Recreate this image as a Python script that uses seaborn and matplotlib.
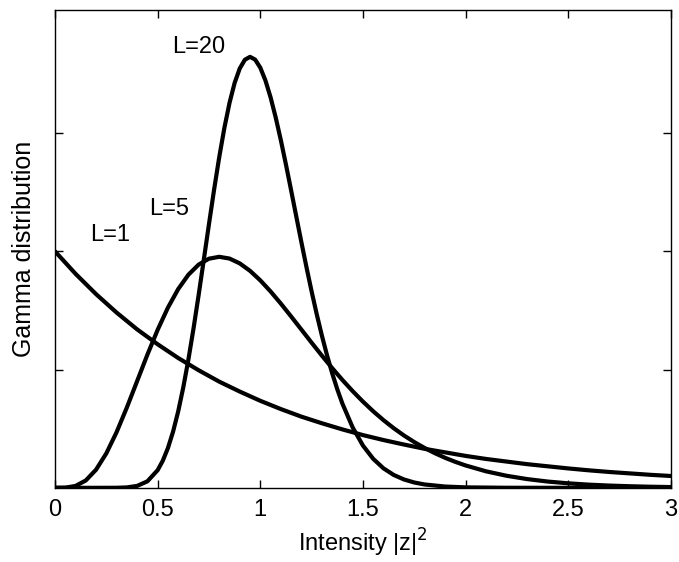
import matplotlib
matplotlib.use("Agg")
import matplotlib.pyplot as plt
import seaborn as sns
import pandas as pd

# === Data (gamma densities, unit mean) ===
x_l1 = [0.0, 0.1, 0.2, 0.3, 0.4, 0.5, 0.6, 0.7, 0.8, 0.9, 1.0,
        1.1, 1.2, 1.3, 1.4, 1.5, 1.6, 1.7, 1.8, 1.9, 2.0,
        2.1, 2.2, 2.3, 2.4, 2.5, 2.6, 2.7, 2.8, 2.9, 3.0]
y_l1 = [1.000, 0.905, 0.819, 0.741, 0.670, 0.607, 0.549, 0.497, 0.449, 0.407, 0.368,
        0.333, 0.301, 0.273, 0.247, 0.223, 0.202, 0.183, 0.165, 0.150, 0.135,
        0.122, 0.111, 0.100, 0.091, 0.082, 0.074, 0.067, 0.061, 0.055, 0.050]

x_l5 = [0.0, 0.05, 0.1, 0.15, 0.2, 0.25, 0.3, 0.35, 0.4, 0.45, 0.5,
        0.55, 0.6, 0.65, 0.7, 0.75, 0.8, 0.85, 0.9, 0.95, 1.0,
        1.05, 1.1, 1.15, 1.2, 1.25, 1.3, 1.35, 1.4, 1.45, 1.5,
        1.55, 1.6, 1.65, 1.7, 1.75, 1.8, 1.85, 1.9, 1.95, 2.0,
        2.1, 2.2, 2.3, 2.4, 2.5, 2.6, 2.7, 2.8, 2.9, 3.0]
y_l5 = [0.0, 0.0006, 0.0079, 0.0311, 0.0766, 0.1457, 0.2353, 0.3395, 0.4511, 0.5628, 0.6680,
        0.7617, 0.8402, 0.9012, 0.9441, 0.9689, 0.9768, 0.9695, 0.9490, 0.9176, 0.8773,
        0.8305, 0.7791, 0.7248, 0.6693, 0.6137, 0.5591, 0.5064, 0.4561, 0.4088, 0.3646,
        0.3237, 0.2863, 0.2521, 0.2213, 0.1935, 0.1687, 0.1466, 0.1270, 0.1098, 0.0946,
        0.0697, 0.0509, 0.0369, 0.0265, 0.0190, 0.0134, 0.0095, 0.0067, 0.0046, 0.0032]

x_l20 = [0.0, 0.2, 0.3, 0.35, 0.4, 0.45, 0.5, 0.525, 0.55, 0.575, 0.6,
         0.625, 0.65, 0.675, 0.7, 0.725, 0.75, 0.775, 0.8, 0.825, 0.85,
         0.875, 0.9, 0.925, 0.95, 0.975, 1.0, 1.025, 1.05, 1.075, 1.1,
         1.125, 1.15, 1.175, 1.2, 1.225, 1.25, 1.275, 1.3, 1.325, 1.35,
         1.375, 1.4, 1.45, 1.5, 1.55, 1.6, 1.65, 1.7, 1.75, 1.8,
         1.9, 2.0, 2.2, 2.5, 3.0]
y_l20 = [0.0, 0.0, 0.0002, 0.0017, 0.0080, 0.0274, 0.0746, 0.1144, 0.1679, 0.2370, 0.3227,
         0.4252, 0.5433, 0.6750, 0.8170, 0.9653, 1.1149, 1.2609, 1.3980, 1.5215, 1.6273,
         1.7120, 1.7734, 1.8102, 1.8224, 1.8107, 1.7767, 1.7227, 1.6516, 1.5665, 1.4706,
         1.3670, 1.2589, 1.1490, 1.0396, 0.9330, 0.8307, 0.7340, 0.6438, 0.5608, 0.4852,
         0.4170, 0.3562, 0.2553, 0.1788, 0.1226, 0.0825, 0.0544, 0.0353, 0.0225, 0.0142,
         0.0054, 0.0019, 0.0002, 0.0, 0.0]

curve_labels = ["L=1", "L=5", "L=20"]
label_x = [0.27, 0.555, 0.70]
label_y = [1.07, 1.18, 1.865]

x_ticks = [0, 0.5, 1, 1.5, 2, 2.5, 3]
x_tick_labels = ["0", "0.5", "1", "1.5", "2", "2.5", "3"]
y_ticks = [0.5, 1.0, 1.5]

df = pd.concat([
    pd.DataFrame({"x": x_l1, "y": y_l1, "L": "L=1"}),
    pd.DataFrame({"x": x_l5, "y": y_l5, "L": "L=5"}),
    pd.DataFrame({"x": x_l20, "y": y_l20, "L": "L=20"}),
])

# === Style ===
sns.set_theme(style="ticks")
plt.rcParams["font.family"] = ["Liberation Sans", "DejaVu Sans"]
plt.rcParams["axes.linewidth"] = 1.0
plt.rcParams["axes.edgecolor"] = "black"
plt.rcParams["axes.labelcolor"] = "black"
plt.rcParams["text.color"] = "black"

fig = plt.figure(figsize=(6.79, 5.62), dpi=100)
ax = fig.add_axes([0.081, 0.132, 0.907, 0.850])

sns.lineplot(data=df, x="x", y="y", hue="L", units="L", estimator=None,
             palette=["black"] * 3, linewidth=3.0, sort=False, legend=False, ax=ax)

for lab, tx, ty in zip(curve_labels, label_x, label_y):
    ax.text(tx, ty, lab, fontsize=17, ha="center", va="center", color="black")

ax.set_xlim(0, 3)
ax.set_ylim(0, 2.02)
ax.set_xticks(x_ticks)
ax.set_xticklabels(x_tick_labels)
ax.set_yticks(y_ticks)
ax.set_yticklabels([])
ax.tick_params(direction="in", length=6, width=1, top=True, right=True,
               labelsize=17, colors="black", pad=8)
for s in ax.spines.values():
    s.set_visible(True)
    s.set_color("black")

ax.set_xlabel("Intensity |z|$^2$", fontsize=17, labelpad=4, color="black")
ax.set_ylabel("Gamma distribution", fontsize=18, labelpad=6, color="black")

fig.savefig("out.png", dpi=100)
plt.close(fig)
